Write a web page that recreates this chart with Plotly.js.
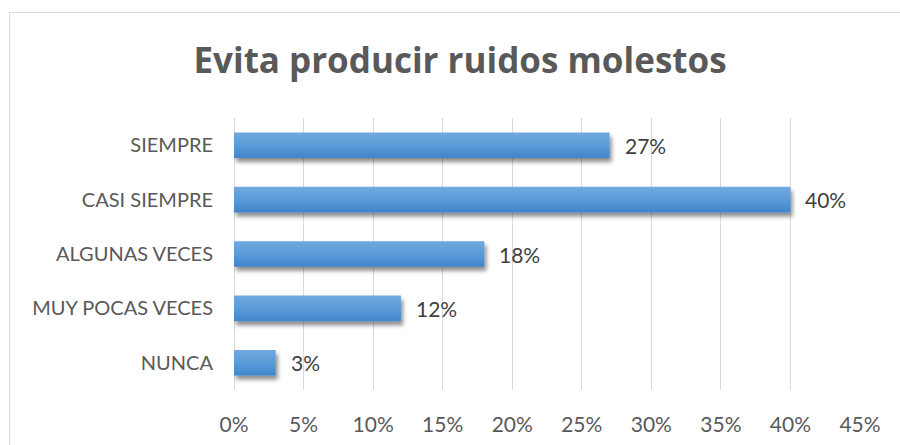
<!DOCTYPE html>
<html>
<head>
<meta charset="utf-8">
<script src="https://cdn.plot.ly/plotly-3.0.1.min.js"></script>
<style>
  html, body { margin: 0; padding: 0; background: #fff; overflow: hidden; }
  #wrap { position: relative; width: 900px; height: 445px; overflow: hidden; }
  #chart { width: 900px; height: 445px; }
  #frame { position: absolute; left: 9px; top: 12px; width: 900px; height: 450px;
           border: 1px solid #d9d9d9; pointer-events: none; box-sizing: border-box; }
</style>
</head>
<body>
<div id="wrap">
  <div id="chart"></div>
  <div id="frame"></div>
</div>
<script>
const categories = ["SIEMPRE", "CASI SIEMPRE", "ALGUNAS VECES", "MUY POCAS VECES", "NUNCA"];
const values = [27, 40, 18, 12, 3];
const tickValues = [0, 5, 10, 15, 20, 25, 30, 35, 40, 45];
const tickLabels = ["0%", "5%", "10%", "15%", "20%", "25%", "30%", "35%", "40%", "45%"];

const FONT = "Lato, 'Open Sans', sans-serif";
const TITLE_FONT = "'Open Sans', Lato, sans-serif";

const trace = {
  type: "bar",
  orientation: "h",
  x: values,
  y: categories,
  marker: { color: "#5b9bd5" },
  hoverinfo: "none"
};

const annotations = values.map((v, i) => ({
  x: v, y: categories[i], xref: "x", yref: "y",
  text: v + "%", showarrow: false, xanchor: "left", yanchor: "middle",
  xshift: 13, font: { family: FONT, size: 21, color: "#404040" }
}));

const layout = {
  width: 900, height: 445,
  margin: { l: 234, r: 40, t: 118, b: 55 },
  paper_bgcolor: "#ffffff",
  plot_bgcolor: "#ffffff",
  showlegend: false,
  bargap: 0.53,
  title: {
    text: "<b>Evita producir ruidos molestos</b>",
    x: 460 / 900, xanchor: "center", xref: "container",
    y: 1 - 61 / 445, yanchor: "middle", yref: "container",
    font: { family: TITLE_FONT, size: 35, color: "#595959" }
  },
  xaxis: {
    range: [0, 45],
    tickvals: tickValues,
    ticktext: tickLabels,
    showgrid: true, gridcolor: "#d9d9d9", gridwidth: 1,
    zeroline: true, zerolinecolor: "#d9d9d9", zerolinewidth: 1,
    showline: false, ticks: "",
    ticklabelstandoff: 20,
    tickfont: { family: FONT, size: 21, color: "#595959" },
    fixedrange: true
  },
  yaxis: {
    autorange: "reversed",
    type: "category",
    showgrid: false, zeroline: false, showline: false, ticks: "",
    ticklabelstandoff: 20,
    tickfont: { family: FONT, size: 20, color: "#595959" },
    fixedrange: true
  },
  annotations: annotations
};

Plotly.newPlot("chart", [trace], layout, { displayModeBar: false, staticPlot: true }).then(function (gd) {
  const svg = gd.querySelector("svg.main-svg");
  const NS = "http://www.w3.org/2000/svg";
  let defs = svg.querySelector("defs");
  if (!defs) { defs = document.createElementNS(NS, "defs"); svg.insertBefore(defs, svg.firstChild); }
  const grad = document.createElementNS(NS, "linearGradient");
  grad.setAttribute("id", "barGrad");
  grad.setAttribute("x1", "0"); grad.setAttribute("y1", "0");
  grad.setAttribute("x2", "0"); grad.setAttribute("y2", "1");
  [["0", "#71a8de"], ["0.5", "#5b9bd8"], ["1", "#3f85cb"]].forEach(function (s) {
    const st = document.createElementNS(NS, "stop");
    st.setAttribute("offset", s[0]); st.setAttribute("stop-color", s[1]);
    grad.appendChild(st);
  });
  defs.appendChild(grad);
  const filt = document.createElementNS(NS, "filter");
  filt.setAttribute("id", "barShadow");
  filt.setAttribute("x", "-10%"); filt.setAttribute("y", "-30%");
  filt.setAttribute("width", "130%"); filt.setAttribute("height", "180%");
  const ds = document.createElementNS(NS, "feDropShadow");
  ds.setAttribute("dx", "2"); ds.setAttribute("dy", "4");
  ds.setAttribute("stdDeviation", "2");
  ds.setAttribute("flood-color", "#000"); ds.setAttribute("flood-opacity", "0.45");
  filt.appendChild(ds);
  defs.appendChild(filt);
  gd.querySelectorAll(".barlayer .point path").forEach(function (p) {
    p.style.fill = "url(#barGrad)";
    p.setAttribute("filter", "url(#barShadow)");
  });
});
</script>
</body>
</html>
